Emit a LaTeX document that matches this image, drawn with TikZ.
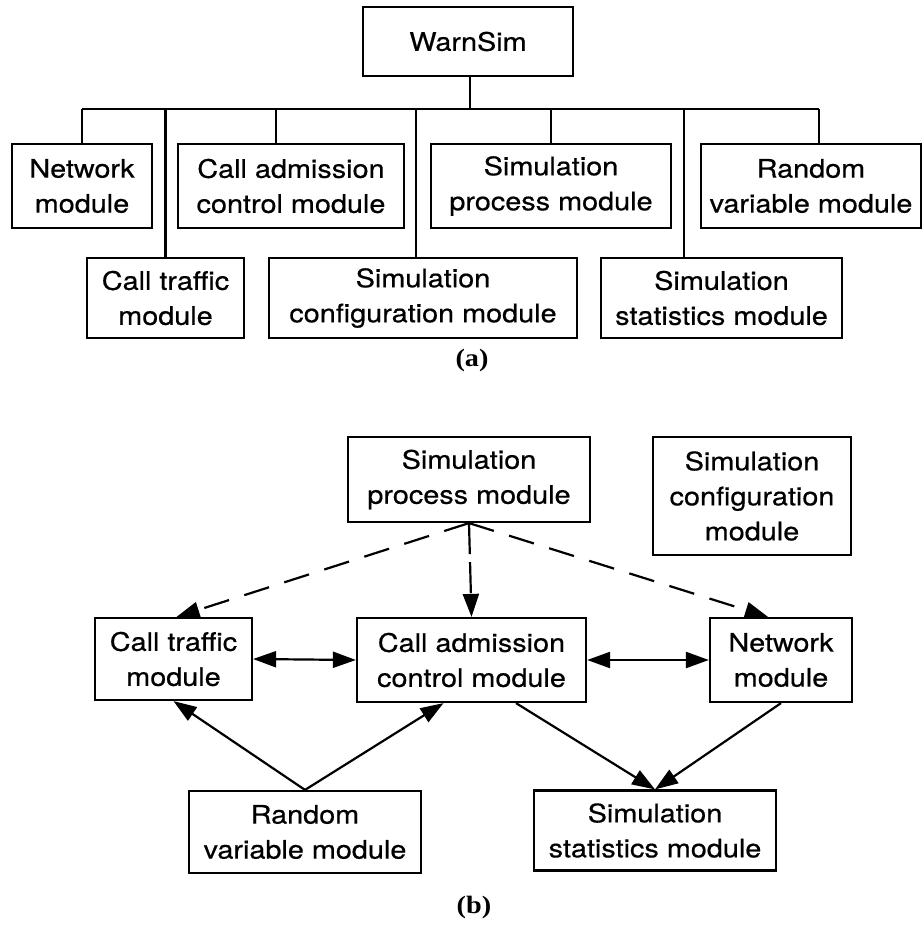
\documentclass[tikz,border=0pt]{standalone}
\usepackage{fontspec}
\setmainfont[FakeStretch=1.13,FakeBold=0.5]{TeX Gyre Heros}
\newfontfamily\capfont[FakeStretch=1.13]{Liberation Serif}
\usetikzlibrary{arrows.meta,calc}

\begin{document}
\begin{tikzpicture}[x=1pt,y=-1pt,
  box/.style={draw, line width=2.2pt, inner sep=0pt, align=center,
    font=\fontsize{25.5}{35}\selectfont},
  sz/.style 2 args={minimum width=#1pt, minimum height=#2pt},
  wire/.style={line width=2.2pt},
  tiparrow/.style={line width=2.2pt, -{Triangle[length=23pt,width=16pt]}},
  twoway/.style={line width=2.2pt,
    {Triangle[length=23pt,width=16pt]}-{Triangle[length=23pt,width=16pt]}},
  dashedarrow/.style={tiparrow, dash pattern=on 26pt off 16pt},
  sublabel/.style={font=\capfont\bfseries\fontsize{25}{28}\selectfont}
]
\useasboundingbox (0,0) rectangle (922,925);

% ---------------- (a) module hierarchy ----------------
\node[box, sz={210}{69}] (warn) at (468,41.5) {WarnSim};

\node[box, sz={140}{84}] (anet)  at (82,186)  {Network\\module};
\node[box, sz={226}{84}] (acac)  at (291,186) {Call admission\\control module};
\node[box, sz={240}{84}] (asp)   at (551,186) {Simulation\\process module};
\node[box, sz={220}{84}] (arand) at (811,186) {Random\\variable module};

\node[box, sz={157}{80}] (actraf) at (165.5,298) {Call traffic\\module};
\node[box, sz={308}{80}] (ascfg)  at (423,298)   {Simulation\\configuration module};
\node[box, sz={241}{80}] (astats) at (721.5,298) {Simulation\\statistics module};

\coordinate (bus) at (470,109);
\draw[wire] (warn.south -| bus) -- (bus);
\draw[wire] (anet.north |- bus) -- ([xshift=8pt]arand.north |- bus);
\draw[wire] (anet.north |- bus) -- (anet.north);
\draw[wire] ([xshift=-15pt]acac.north |- bus) -- ([xshift=-15pt]acac.north);
\draw[wire] (asp.north |- bus) -- (asp.north);
\draw[wire] ([xshift=8pt]arand.north |- bus) -- ([xshift=8pt]arand.north);
\draw[wire] (actraf.north |- bus) -- (actraf.north);
\draw[wire] ([xshift=-7pt]ascfg.north |- bus) -- ([xshift=-7pt]ascfg.north);
\draw[wire] ([xshift=-37.5pt]astats.north |- bus) -- ([xshift=-37.5pt]astats.north);

\node[sublabel] (labela) at (472,360) {(a)};

% ---------------- (b) module interaction ----------------
\node[box, sz={242}{85}]  (sp)    at (469,479.5) {Simulation\\process module};
\node[box, sz={198}{118}] (scfg)  at (752,496)   {Simulation\\configuration\\module};

\node[box, sz={157}{82}] (ctraf) at (173.5,659) {Call traffic\\module};
\node[box, sz={229}{84}] (cac)   at (471.5,660) {Call admission\\control module};
\node[box, sz={142}{84}] (net)   at (781,660)   {Network\\module};

\node[box, sz={232}{82}] (rand)  at (305,832)   {Random\\variable module};
\node[box, sz={242}{80}] (stats) at (655,830.5) {Simulation\\statistics module};

% dashed control flow from the simulation process
\draw[dashedarrow] (sp.south) -- ([xshift=3pt]ctraf.north);
\draw[tiparrow, dash pattern=on 31pt off 8pt] (sp.south) -- (cac.north);
\draw[dashedarrow] (sp.south) -- ([xshift=-13pt]net.north);

% two-way exchanges with call admission control
\draw[twoway] (ctraf.east) -- (cac.west);
\draw[twoway] (cac.east) -- (net.west);

% random variables feed traffic and admission control
\draw[tiparrow] (rand.north) -- (ctraf.south);
\draw[tiparrow] (rand.north) -- ([xshift=-28pt]cac.south);

% statistics collection
\draw[tiparrow] ([xshift=44.5pt]cac.south) -- (stats.north);
\draw[tiparrow] (net.south) -- (stats.north);

\node[sublabel] (labelb) at (474,907) {(b)};
\end{tikzpicture}
\end{document}
